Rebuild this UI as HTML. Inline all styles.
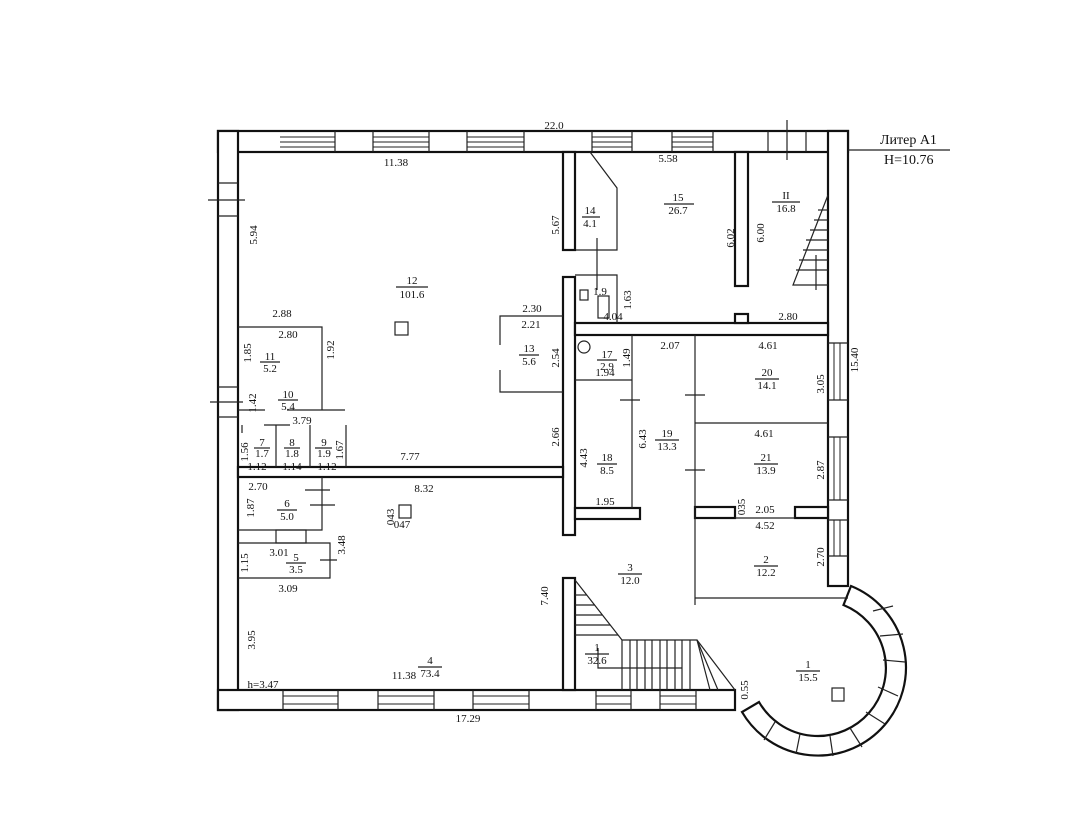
<!DOCTYPE html>
<html><head><meta charset="utf-8"><style>
html,body{margin:0;padding:0;background:#fff}
svg{display:block}
text{font-family:"Liberation Serif",serif;font-size:11px;fill:#111}
.w{fill:#fff;stroke:#111;stroke-width:2.2}
.t{stroke:#222;stroke-width:1.2;fill:none}
.win{stroke:#222;stroke-width:1}
</style></head><body>
<svg width="1086" height="814" viewBox="0 0 1086 814" xmlns="http://www.w3.org/2000/svg">
<!-- outer walls -->
<rect class="w" x="218" y="131" width="630" height="21"/>
<rect class="w" x="218" y="131" width="20" height="579"/>
<rect class="w" x="218" y="690" width="517" height="20"/>
<rect class="w" x="828" y="131" width="20" height="455"/>
<path class="w" d="M851,586 A88,88 0 1,1 742,712 L759,702 A68,68 0 1,0 843.5,605 Z"/>
<!-- top windows -->
<g class="win">
<rect x="280" y="133" width="55" height="17" fill="#fff" stroke="none"/><line x1="280" y1="137" x2="335" y2="137"/><line x1="280" y1="142" x2="335" y2="142"/><line x1="280" y1="147" x2="335" y2="147"/>
<rect x="373" y="133" width="56" height="17" fill="#fff" stroke="none"/><line x1="373" y1="137" x2="429" y2="137"/><line x1="373" y1="142" x2="429" y2="142"/><line x1="373" y1="147" x2="429" y2="147"/>
<rect x="467" y="133" width="57" height="17" fill="#fff" stroke="none"/><line x1="467" y1="137" x2="524" y2="137"/><line x1="467" y1="142" x2="524" y2="142"/><line x1="467" y1="147" x2="524" y2="147"/>
<rect x="592" y="133" width="40" height="17" fill="#fff" stroke="none"/><line x1="592" y1="137" x2="632" y2="137"/><line x1="592" y1="142" x2="632" y2="142"/><line x1="592" y1="147" x2="632" y2="147"/>
<rect x="672" y="133" width="41" height="17" fill="#fff" stroke="none"/><line x1="672" y1="137" x2="713" y2="137"/><line x1="672" y1="142" x2="713" y2="142"/><line x1="672" y1="147" x2="713" y2="147"/>
<rect x="768" y="133" width="38" height="17" fill="#fff" stroke="none"/>
</g>
<line class="t" x1="335" y1="131" x2="335" y2="152"/><line class="t" x1="373" y1="131" x2="373" y2="152"/>
<line class="t" x1="429" y1="131" x2="429" y2="152"/><line class="t" x1="467" y1="131" x2="467" y2="152"/>
<line class="t" x1="524" y1="131" x2="524" y2="152"/><line class="t" x1="592" y1="131" x2="592" y2="152"/>
<line class="t" x1="632" y1="131" x2="632" y2="152"/><line class="t" x1="672" y1="131" x2="672" y2="152"/>
<line class="t" x1="713" y1="131" x2="713" y2="152"/><line class="t" x1="768" y1="131" x2="768" y2="152"/>
<line class="t" x1="806" y1="131" x2="806" y2="152"/><line class="t" x1="787" y1="120" x2="787" y2="160"/>
<!-- left wall openings -->
<rect x="220" y="183" width="16" height="33" fill="#fff"/><line class="t" x1="218" y1="183" x2="238" y2="183"/><line class="t" x1="218" y1="216" x2="238" y2="216"/><line class="t" x1="208" y1="200" x2="245" y2="200"/>
<rect x="220" y="387" width="16" height="30" fill="#fff"/><line class="t" x1="218" y1="387" x2="238" y2="387"/><line class="t" x1="218" y1="417" x2="238" y2="417"/><line class="t" x1="210" y1="402" x2="243" y2="402"/>
<!-- bottom windows -->
<g class="win">
<rect x="283" y="692" width="55" height="16" fill="#fff" stroke="none"/><line x1="283" y1="696" x2="338" y2="696"/><line x1="283" y1="704" x2="338" y2="704"/>
<rect x="378" y="692" width="56" height="16" fill="#fff" stroke="none"/><line x1="378" y1="696" x2="434" y2="696"/><line x1="378" y1="704" x2="434" y2="704"/>
<rect x="473" y="692" width="56" height="16" fill="#fff" stroke="none"/><line x1="473" y1="696" x2="529" y2="696"/><line x1="473" y1="704" x2="529" y2="704"/>
<rect x="596" y="692" width="35" height="16" fill="#fff" stroke="none"/><line x1="596" y1="696" x2="631" y2="696"/><line x1="596" y1="704" x2="631" y2="704"/>
<rect x="660" y="692" width="36" height="16" fill="#fff" stroke="none"/><line x1="660" y1="696" x2="696" y2="696"/><line x1="660" y1="704" x2="696" y2="704"/>
</g>
<g class="t"><line x1="283" y1="690" x2="283" y2="710"/><line x1="338" y1="690" x2="338" y2="710"/><line x1="378" y1="690" x2="378" y2="710"/><line x1="434" y1="690" x2="434" y2="710"/><line x1="473" y1="690" x2="473" y2="710"/><line x1="529" y1="690" x2="529" y2="710"/><line x1="596" y1="690" x2="596" y2="710"/><line x1="631" y1="690" x2="631" y2="710"/><line x1="660" y1="690" x2="660" y2="710"/><line x1="696" y1="690" x2="696" y2="710"/></g>
<!-- right wall windows -->
<g class="win">
<rect x="830" y="343" width="16" height="57" fill="#fff" stroke="none"/><line x1="834" y1="343" x2="834" y2="400"/><line x1="840" y1="343" x2="840" y2="400"/>
<rect x="830" y="437" width="16" height="63" fill="#fff" stroke="none"/><line x1="834" y1="437" x2="834" y2="500"/><line x1="840" y1="437" x2="840" y2="500"/>
<rect x="830" y="520" width="16" height="36" fill="#fff" stroke="none"/><line x1="834" y1="520" x2="834" y2="556"/><line x1="840" y1="520" x2="840" y2="556"/>
</g>
<g class="t"><line x1="828" y1="343" x2="848" y2="343"/><line x1="828" y1="400" x2="848" y2="400"/><line x1="828" y1="437" x2="848" y2="437"/><line x1="828" y1="500" x2="848" y2="500"/><line x1="828" y1="520" x2="848" y2="520"/><line x1="828" y1="556" x2="848" y2="556"/></g>
<!-- arc window ticks -->
<g class="t">
<line x1="873" y1="611" x2="893" y2="606"/><line x1="880" y1="636" x2="903" y2="634"/><line x1="883" y1="660" x2="905" y2="662"/><line x1="878" y1="687" x2="898" y2="696"/><line x1="866" y1="712" x2="885" y2="724"/><line x1="850" y1="728" x2="862" y2="747"/><line x1="830" y1="736" x2="833" y2="756"/><line x1="800" y1="734" x2="796" y2="754"/><line x1="775" y1="722" x2="764" y2="740"/>
</g>
<!-- interior thick walls -->
<rect class="w" x="563" y="152" width="12" height="98"/>
<rect class="w" x="563" y="277" width="12" height="258"/>
<rect class="w" x="238" y="467" width="325" height="10"/>
<rect class="w" x="575" y="323" width="253" height="12"/>
<rect class="w" x="735" y="152" width="13" height="134"/>
<rect class="w" x="735" y="314" width="13" height="9"/>
<rect class="w" x="575" y="508" width="65" height="11"/>
<rect class="w" x="695" y="507" width="40" height="11"/>
<rect class="w" x="795" y="507" width="33" height="11"/>
<rect class="w" x="563" y="578" width="12" height="112"/>
<!-- thin partitions -->
<g class="t">
<polyline points="590,152 617,188 617,250 576,250"/>
<line x1="597" y1="238" x2="597" y2="262"/>
<polyline points="575,275 617,275 617,323"/><line x1="597" y1="262" x2="597" y2="290"/>
<rect x="580" y="290" width="8" height="10"/><rect x="598" y="296" width="11" height="22"/>
<line x1="575" y1="380" x2="632" y2="380"/>
<line x1="632" y1="335" x2="632" y2="508"/>
<line x1="620" y1="400" x2="640" y2="400"/>
<circle cx="584" cy="347" r="6"/>
<line x1="695" y1="335" x2="695" y2="605"/>
<line x1="695" y1="423" x2="828" y2="423"/>
<line x1="685" y1="395" x2="705" y2="395"/><line x1="685" y1="470" x2="705" y2="470"/>
<line x1="695" y1="598" x2="848" y2="598"/>
<line x1="735" y1="518" x2="795" y2="518"/>
<!-- rooms left -->
<polyline points="238,327 322,327 322,410"/>
<line x1="238" y1="410" x2="265" y2="410"/><line x1="287" y1="410" x2="345" y2="410"/>
<line x1="264" y1="425" x2="290" y2="425"/><line x1="276" y1="425" x2="276" y2="467"/>
<line x1="310" y1="425" x2="310" y2="467"/><line x1="346" y1="425" x2="346" y2="467"/>
<line x1="242" y1="425" x2="242" y2="433"/>
<polyline points="563,316 500,316 500,345"/><polyline points="500,370 500,392 563,392"/>
<polyline points="322,477 322,530 238,530"/><line x1="305" y1="490" x2="330" y2="490"/><line x1="310" y1="505" x2="335" y2="505"/>
<polyline points="238,578 330,578 330,543 238,543"/><line x1="320" y1="560" x2="337" y2="560"/>
<rect x="276" y="530" width="30" height="13"/>
<!-- stairs -->
<polyline points="575,580 622,640 697,640 735,690"/>
<line x1="622" y1="640" x2="622" y2="690"/>
<line x1="630" y1="640" x2="630" y2="690"/><line x1="637" y1="640" x2="637" y2="690"/><line x1="645" y1="640" x2="645" y2="690"/><line x1="652" y1="640" x2="652" y2="690"/><line x1="660" y1="640" x2="660" y2="690"/><line x1="667" y1="640" x2="667" y2="690"/><line x1="675" y1="640" x2="675" y2="690"/><line x1="682" y1="640" x2="682" y2="690"/><line x1="690" y1="640" x2="690" y2="690"/>
<line x1="575" y1="595" x2="587" y2="595"/><line x1="575" y1="605" x2="595" y2="605"/><line x1="575" y1="615" x2="602" y2="615"/><line x1="575" y1="625" x2="610" y2="625"/><line x1="575" y1="635" x2="618" y2="635"/>
<polyline points="598,648 598,668 682,668"/>
<line x1="697" y1="640" x2="718" y2="690"/><line x1="697" y1="640" x2="710" y2="690"/>
<!-- stairs II -->
<polyline points="828,195 793,285 828,285"/>
<line x1="818" y1="210" x2="828" y2="210"/><line x1="814" y1="220" x2="828" y2="220"/><line x1="810" y1="230" x2="828" y2="230"/><line x1="806" y1="240" x2="828" y2="240"/><line x1="803" y1="250" x2="828" y2="250"/><line x1="799" y1="260" x2="828" y2="260"/><line x1="796" y1="270" x2="828" y2="270"/>
<line x1="816" y1="290" x2="816" y2="255"/>
</g>
<!-- columns -->
<rect x="395" y="322" width="13" height="13" class="t" stroke-width="2"/>
<rect x="399" y="505" width="12" height="13" class="t" stroke-width="2"/>
<rect x="832" y="688" width="12" height="13" class="t" stroke-width="2"/>
<!-- room labels -->
<g text-anchor="middle">
<text x="412" y="284">12</text><text x="412" y="298">101.6</text><line class="t" x1="396" y1="287" x2="428" y2="287"/>
<text x="590" y="214">14</text><text x="590" y="227">4.1</text><line class="t" x1="582" y1="217" x2="600" y2="217"/>
<text x="678" y="201">15</text><text x="678" y="214">26.7</text><line class="t" x1="664" y1="204" x2="694" y2="204"/>
<text x="786" y="199">II</text><text x="786" y="212">16.8</text><line class="t" x1="772" y1="202" x2="800" y2="202"/>
<text x="600" y="295">1.9</text>
<text x="529" y="352">13</text><text x="529" y="365">5.6</text><line class="t" x1="519" y1="355" x2="539" y2="355"/>
<text x="607" y="358">17</text><text x="607" y="370">2.9</text><line class="t" x1="597" y1="360" x2="617" y2="360"/>
<text x="270" y="360">11</text><text x="270" y="372">5.2</text><line class="t" x1="260" y1="362" x2="280" y2="362"/>
<text x="288" y="398">10</text><text x="288" y="410">5.4</text><line class="t" x1="278" y1="400" x2="298" y2="400"/>
<text x="262" y="446">7</text><text x="262" y="457">1.7</text><line class="t" x1="254" y1="448" x2="270" y2="448"/>
<text x="292" y="446">8</text><text x="292" y="457">1.8</text><line class="t" x1="284" y1="448" x2="300" y2="448"/>
<text x="324" y="446">9</text><text x="324" y="457">1.9</text><line class="t" x1="315" y1="448" x2="332" y2="448"/>
<text x="607" y="461">18</text><text x="607" y="474">8.5</text><line class="t" x1="597" y1="464" x2="617" y2="464"/>
<text x="667" y="437">19</text><text x="667" y="450">13.3</text><line class="t" x1="655" y1="440" x2="679" y2="440"/>
<text x="767" y="376">20</text><text x="767" y="389">14.1</text><line class="t" x1="755" y1="379" x2="779" y2="379"/>
<text x="766" y="461">21</text><text x="766" y="474">13.9</text><line class="t" x1="754" y1="464" x2="778" y2="464"/>
<text x="287" y="507">6</text><text x="287" y="520">5.0</text><line class="t" x1="277" y1="510" x2="297" y2="510"/>
<text x="296" y="561">5</text><text x="296" y="573">3.5</text><line class="t" x1="286" y1="563" x2="306" y2="563"/>
<text x="630" y="571">3</text><text x="630" y="584">12.0</text><line class="t" x1="618" y1="574" x2="642" y2="574"/>
<text x="766" y="563">2</text><text x="766" y="576">12.2</text><line class="t" x1="754" y1="566" x2="778" y2="566"/>
<text x="430" y="664">4</text><text x="430" y="677">73.4</text><line class="t" x1="418" y1="667" x2="442" y2="667"/>
<text x="597" y="651">1</text><text x="597" y="664">32.6</text><line class="t" x1="585" y1="654" x2="609" y2="654"/>
<text x="808" y="668">1</text><text x="808" y="681">15.5</text><line class="t" x1="796" y1="671" x2="820" y2="671"/>
<!-- dimensions -->
<text x="554" y="129">22.0</text>
<text x="396" y="166">11.38</text>
<text x="668" y="162">5.58</text>
<text x="282" y="317">2.88</text><text x="288" y="338">2.80</text>
<text x="532" y="312">2.30</text><text x="531" y="328">2.21</text>
<text x="613" y="320">4.04</text><text x="788" y="320">2.80</text>
<text x="670" y="349">2.07</text><text x="768" y="349">4.61</text>
<text x="764" y="437">4.61</text>
<text x="605" y="376">1.94</text>
<text x="302" y="424">3.79</text>
<text x="257" y="470">1.12</text><text x="292" y="470">1.14</text><text x="327" y="470">1.12</text>
<text x="410" y="460">7.77</text>
<text x="258" y="490">2.70</text><text x="424" y="492">8.32</text>
<text x="605" y="505">1.95</text>
<text x="765" y="513">2.05</text><text x="765" y="529">4.52</text>
<text x="279" y="556">3.01</text><text x="288" y="592">3.09</text>
<text x="402" y="528">047</text>
<text x="404" y="679">11.38</text>
<text x="263" y="688">h=3.47</text>
<text x="468" y="722">17.29</text>
</g>
<g>
<text transform="translate(257,235) rotate(-90)" text-anchor="middle">5.94</text>
<text transform="translate(559,225) rotate(-90)" text-anchor="middle">5.67</text>
<text transform="translate(734,238) rotate(-90)" text-anchor="middle">6.02</text>
<text transform="translate(764,233) rotate(-90)" text-anchor="middle">6.00</text>
<text transform="translate(631,300) rotate(-90)" text-anchor="middle">1.63</text>
<text transform="translate(251,353) rotate(-90)" text-anchor="middle">1.85</text>
<text transform="translate(334,350) rotate(-90)" text-anchor="middle">1.92</text>
<text transform="translate(559,358) rotate(-90)" text-anchor="middle">2.54</text>
<text transform="translate(630,358) rotate(-90)" text-anchor="middle">1.49</text>
<text transform="translate(858,360) rotate(-90)" text-anchor="middle">15.40</text>
<text transform="translate(824,384) rotate(-90)" text-anchor="middle">3.05</text>
<text transform="translate(256,403) rotate(-90)" text-anchor="middle">1.42</text>
<text transform="translate(559,437) rotate(-90)" text-anchor="middle">2.66</text>
<text transform="translate(587,458) rotate(-90)" text-anchor="middle">4.43</text>
<text transform="translate(646,439) rotate(-90)" text-anchor="middle">6.43</text>
<text transform="translate(248,452) rotate(-90)" text-anchor="middle">1.56</text>
<text transform="translate(343,450) rotate(-90)" text-anchor="middle">1.67</text>
<text transform="translate(824,470) rotate(-90)" text-anchor="middle">2.87</text>
<text transform="translate(745,507) rotate(-90)" text-anchor="middle">035</text>
<text transform="translate(254,508) rotate(-90)" text-anchor="middle">1.87</text>
<text transform="translate(394,517) rotate(-90)" text-anchor="middle">043</text>
<text transform="translate(345,545) rotate(-90)" text-anchor="middle">3.48</text>
<text transform="translate(248,563) rotate(-90)" text-anchor="middle">1.15</text>
<text transform="translate(824,557) rotate(-90)" text-anchor="middle">2.70</text>
<text transform="translate(548,596) rotate(-90)" text-anchor="middle">7.40</text>
<text transform="translate(255,640) rotate(-90)" text-anchor="middle">3.95</text>
<text transform="translate(748,690) rotate(-90)" text-anchor="middle">0.55</text>
</g>
<!-- Liter -->
<line class="t" x1="848" y1="150" x2="950" y2="150"/>
<text x="880" y="144" style="font-size:14px">Литер А1</text>
<text x="884" y="164" style="font-size:14px">Н=10.76</text>
</svg>
</body></html>
